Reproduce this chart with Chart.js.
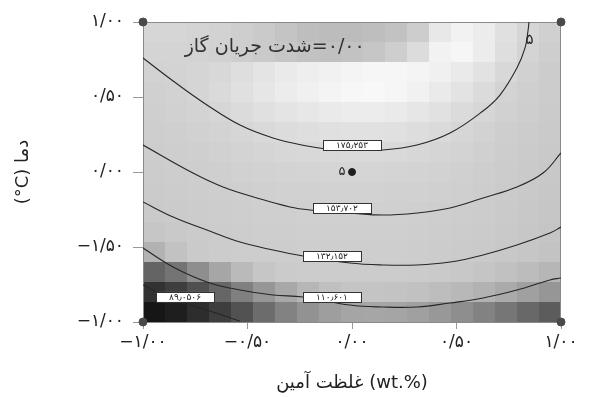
<!DOCTYPE html>
<html>
<head>
<meta charset="utf-8">
<script src="https://cdn.jsdelivr.net/npm/chart.js@4.4.1/dist/chart.umd.min.js"></script>
<style>
  html, body { margin: 0; padding: 0; background: #fff; }
  #wrap { width: 598px; height: 397px; }
</style>
</head>
<body>
<div id="wrap"><canvas id="myChart" width="598" height="397"></canvas></div>
<script>
// ejes
const xTicks = [-1, -0.5, 0, 0.5, 1];
const xTickLabels = ['−۱/۰۰', '−۰/۵۰', '۰/۰۰', '۰/۵۰', '۱/۰۰'];
const yTicks = [-1, -0.5, 0, 0.5, 1];
const yTickLabels = ['−۱/۰۰', '−۱/۵۰', '۰/۰۰', '۰/۵۰', '۱/۰۰'];

const xTitle = 'غلظت آمین (wt.%)';
const yTitle = 'دما (\u2066°C\u2069)';
const panelTitle = '۰/۰۰=شدت جریان گاز';

// curvas de nivel
const c175 = [
  {x: -1, y: 0.76}, {x: -0.856, y: 0.607}, {x: -0.694, y: 0.447}, {x: -0.536, y: 0.313},
  {x: -0.378, y: 0.227}, {x: -0.215, y: 0.173}, {x: -0.12, y: 0.153}, {x: 0, y: 0.147},
  {x: 0.148, y: 0.147}, {x: 0.311, y: 0.18}, {x: 0.469, y: 0.26}, {x: 0.627, y: 0.407},
  {x: 0.708, y: 0.513}, {x: 0.789, y: 0.693}, {x: 0.828, y: 0.827}, {x: 0.842, y: 0.94},
  {x: 0.847, y: 1.0}
];
const c153 = [
  {x: -1, y: 0.18}, {x: -0.761, y: -0.007}, {x: -0.617, y: -0.1}, {x: -0.455, y: -0.173},
  {x: -0.297, y: -0.233}, {x: -0.201, y: -0.253}, {x: -0.01, y: -0.273}, {x: 0.148, y: -0.287},
  {x: 0.311, y: -0.273}, {x: 0.469, y: -0.24}, {x: 0.627, y: -0.173}, {x: 0.789, y: -0.1},
  {x: 0.914, y: -0.007}, {x: 1, y: 0.127}
];
const c132 = [
  {x: -1, y: -0.2}, {x: -0.856, y: -0.3}, {x: -0.694, y: -0.387}, {x: -0.536, y: -0.467},
  {x: -0.378, y: -0.52}, {x: -0.234, y: -0.56}, {x: -0.01, y: -0.607}, {x: 0.148, y: -0.62},
  {x: 0.311, y: -0.62}, {x: 0.469, y: -0.6}, {x: 0.627, y: -0.553}, {x: 0.789, y: -0.487},
  {x: 0.947, y: -0.407}, {x: 1, y: -0.367}
];
const c110 = [
  {x: -1, y: -0.507}, {x: -0.856, y: -0.633}, {x: -0.694, y: -0.733}, {x: -0.536, y: -0.787},
  {x: -0.378, y: -0.82}, {x: -0.234, y: -0.833}, {x: -0.01, y: -0.887}, {x: 0.148, y: -0.9},
  {x: 0.311, y: -0.9}, {x: 0.469, y: -0.873}, {x: 0.627, y: -0.84}, {x: 0.789, y: -0.787},
  {x: 0.947, y: -0.72}, {x: 1, y: -0.707}
];
const c89 = [
  {x: -1, y: -0.753}, {x: -0.856, y: -0.853}, {x: -0.694, y: -0.92}, {x: -0.536, y: -0.995}
];

// etiquetas de las curvas
const contourLabels = ['۱۷۵٫۲۵۳', '۱۵۳٫۷۰۲', '۱۳۲٫۱۵۲', '۱۱۰٫۶۰۱', '۸۹٫۰۵۰۶'];
const labelX = [0, -0.048, -0.096, -0.096, -0.799];
const labelY = [0.18, -0.24, -0.56, -0.833, -0.833];

// puntos de diseño
const cornerPts = [{x: -1, y: 1}, {x: 1, y: 1}, {x: -1, y: -1}, {x: 1, y: -1}];
const centerPt = [{x: 0, y: 0}];
const centerCount = '۵';

// fondo en escala de grises (filas de arriba hacia abajo, 19 columnas)
const shade = [
  [214,214,212,210,206,202,196,190,188,188,190,194,205,232,242,236,224,214,208],
  [212,212,211,209,206,202,198,194,192,194,198,206,220,242,246,236,222,212,206],
  [210,211,213,216,222,228,234,238,241,244,246,246,244,240,234,226,216,209,204],
  [208,210,213,218,224,230,236,240,244,247,248,246,241,234,227,219,211,207,204],
  [207,209,211,214,219,224,228,231,234,236,236,234,230,225,219,214,209,206,203],
  [206,207,209,211,214,217,220,222,224,225,225,224,221,218,214,210,206,204,202],
  [205,206,207,209,211,213,215,216,217,218,218,217,215,213,211,208,205,203,201],
  [204,205,206,207,209,210,211,212,213,213,213,212,211,210,208,206,204,202,200],
  [203,204,205,206,207,208,209,209,210,210,210,209,209,208,207,205,203,201,199],
  [202,203,204,205,206,207,207,208,208,208,208,208,207,206,205,204,202,200,198],
  [198,201,203,204,205,206,206,207,207,207,207,207,206,205,204,203,201,199,197],
  [178,194,202,204,205,205,205,206,206,206,206,206,205,204,203,202,200,198,195],
  [100,116,142,166,186,198,203,204,204,204,204,204,203,202,200,197,193,188,182],
  [50,62,80,102,128,150,168,182,192,196,196,195,193,189,184,178,170,160,150],
  [22,30,45,62,82,108,130,146,158,165,166,165,160,152,142,130,118,104,92]
];

const FONT = '"DejaVu Sans", sans-serif';

// Fondo: celdas dibujadas con las escalas del gráfico
const heatPlugin = {
  id: 'heat',
  beforeDatasetsDraw(chart) {
    const {ctx, scales: {x, y}} = chart;
    const rows = shade.length, cols = shade[0].length;
    const cw = 2 / cols, ch = 2 / rows;
    ctx.save();
    shade.forEach((row, r) => {
      row.forEach((g, c) => {
        const x0 = Math.round(x.getPixelForValue(-1 + c * cw));
        const x1 = Math.round(x.getPixelForValue(-1 + (c + 1) * cw));
        const y0 = Math.round(y.getPixelForValue(1 - r * ch));
        const y1 = Math.round(y.getPixelForValue(1 - (r + 1) * ch));
        ctx.fillStyle = `rgb(${g},${g},${g})`;
        ctx.fillRect(x0, y0, x1 - x0, y1 - y0);
      });
    });
    const a = chart.chartArea;
    ctx.strokeStyle = '#8a8a8a';
    ctx.lineWidth = 1;
    ctx.strokeRect(a.left + 0.5, a.top + 0.5, a.right - a.left - 1, a.bottom - a.top);
    ctx.restore();
  },
  afterDatasetsDraw(chart) {
    const {ctx, scales: {x, y}} = chart;
    ctx.save();
    // cajas de etiquetas
    ctx.font = '9px ' + FONT;
    ctx.textAlign = 'center';
    ctx.textBaseline = 'middle';
    contourLabels.forEach((txt, i) => {
      const px = x.getPixelForValue(labelX[i]);
      const py = y.getPixelForValue(labelY[i]);
      const w = 58, h = 10;
      ctx.fillStyle = '#fff';
      ctx.fillRect(px - w / 2, py - h / 2, w, h);
      ctx.strokeStyle = '#333';
      ctx.lineWidth = 1;
      ctx.strokeRect(Math.round(px - w / 2) + 0.5, Math.round(py - h / 2) + 0.5, w, h);
      ctx.fillStyle = '#222';
      ctx.fillText(txt, px, py + 1);
    });
    // número de réplicas del punto central
    ctx.font = '13px ' + FONT;
    ctx.fillStyle = '#222';
    ctx.fillText(centerCount, x.getPixelForValue(centerPt[0].x) - 10, y.getPixelForValue(centerPt[0].y));
    ctx.font = '15px ' + FONT;
    ctx.fillText(centerCount, x.getPixelForValue(0.85), y.getPixelForValue(0.88));
    // título del panel
    ctx.direction = 'rtl';
    ctx.font = '19px ' + FONT;
    ctx.fillStyle = '#333';
    ctx.textAlign = 'center';
    ctx.fillText(panelTitle, x.getPixelForValue(-0.37), y.getPixelForValue(0.83));
    ctx.restore();
  },
  afterDraw(chart) {
    const {ctx, chartArea: a} = chart;
    ctx.save();
    ctx.fillStyle = '#222';
    ctx.font = '18px ' + FONT;
    ctx.textAlign = 'center';
    ctx.textBaseline = 'middle';
    ctx.direction = 'ltr';
    ctx.fillText(xTitle, (a.left + a.right) / 2, 383);
    ctx.direction = 'rtl';
    ctx.translate(23, (a.top + a.bottom) / 2);
    ctx.rotate(-Math.PI / 2);
    ctx.fillText(yTitle, 0, 0);
    ctx.restore();
  }
};

const ctx = document.getElementById('myChart').getContext('2d');

const lineStyle = {
  type: 'line',
  borderColor: '#262626',
  borderWidth: 1.1,
  pointRadius: 0,
  tension: 0.4,
  fill: false
};

new Chart(ctx, {
  type: 'scatter',
  data: {
    datasets: [
      Object.assign({data: c175}, lineStyle),
      Object.assign({data: c153}, lineStyle),
      Object.assign({data: c132}, lineStyle),
      Object.assign({data: c110}, lineStyle),
      Object.assign({data: c89}, lineStyle),
      {
        data: cornerPts,
        pointRadius: 4,
        pointBackgroundColor: '#4a4a4a',
        pointBorderColor: '#4a4a4a',
        clip: false
      },
      {
        data: centerPt,
        pointRadius: 3.5,
        pointBackgroundColor: '#1e1e1e',
        pointBorderColor: '#1e1e1e'
      }
    ]
  },
  options: {
    responsive: false,
    animation: false,
    layout: { padding: { top: 22, right: 37, left: 0, bottom: 0 } },
    plugins: {
      legend: { display: false },
      tooltip: { enabled: false }
    },
    scales: {
      x: {
        type: 'linear',
        min: -1,
        max: 1,
        afterBuildTicks: axis => { axis.ticks = xTicks.map(v => ({value: v})); },
        afterFit: axis => { axis.height = 75; },
        ticks: {
          callback: (v) => xTickLabels[xTicks.indexOf(v)],
          color: '#222',
          font: { family: FONT, size: 17 },
          padding: 3,
          maxRotation: 0
        },
        grid: { drawOnChartArea: false, tickLength: 7, color: '#999' },
        border: { color: '#8a8a8a' }
      },
      y: {
        type: 'linear',
        min: -1,
        max: 1,
        afterBuildTicks: axis => { axis.ticks = yTicks.map(v => ({value: v})); },
        afterFit: axis => { axis.width = 143; },
        ticks: {
          callback: (v) => yTickLabels[yTicks.indexOf(v)],
          color: '#222',
          font: { family: FONT, size: 17 },
          padding: 9
        },
        grid: { drawOnChartArea: false, tickLength: 10, color: '#999' },
        border: { color: '#8a8a8a' }
      }
    }
  },
  plugins: [heatPlugin]
});
</script>
</body>
</html>
